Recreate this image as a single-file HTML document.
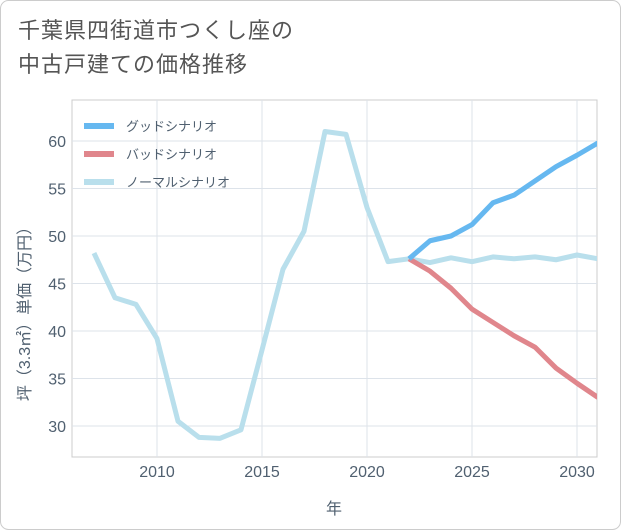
<!DOCTYPE html>
<html><head><meta charset="utf-8">
<style>
html,body{margin:0;padding:0;background:#fff;}
#wrap{position:relative;width:621px;height:530px;overflow:hidden;font-family:"Liberation Sans","Noto Sans CJK JP",sans-serif;}
#title{position:absolute;left:18px;top:14px;font-size:22px;line-height:34px;color:#555;letter-spacing:1px;}
svg{position:absolute;left:0;top:0;}
text{font-family:"Liberation Sans","Noto Sans CJK JP",sans-serif;}
</style></head>
<body>
<div id="wrap">
<svg id="chart" width="621" height="530">
<rect x="0.5" y="0.5" width="620" height="529" rx="8" fill="#fff" stroke="#ccc"/>
</svg>
<div id="title">千葉県四街道市つくし座の<br>中古戸建ての価格推移</div>
</div>
<script>
const years=[2007,2008,2009,2010,2011,2012,2013,2014,2015,2016,2017,2018,2019,2020,2021,2022,2023,2024,2025,2026,2027,2028,2029,2030,2031];
const normalVals=[48.2,43.5,42.8,39.2,30.5,28.8,28.7,29.6,38,46.5,50.5,61,60.7,53,47.3,47.6,47.2,47.7,47.3,47.8,47.6,47.8,47.5,48,47.6];
const goodYears=[2022,2023,2024,2025,2026,2027,2028,2029,2030,2031];
const goodVals=[47.6,49.5,50,51.2,53.5,54.3,55.8,57.3,58.5,59.8];
const badVals=[47.6,46.3,44.5,42.3,40.9,39.5,38.3,36.1,34.5,33];
const xTicks=[2010,2015,2020,2025,2030];
const yTicks=[30,35,40,45,50,55,60];
const NS="http://www.w3.org/2000/svg";
const svg=document.getElementById('chart');
const L=72,R=597,T=100,B=457;
const x=v=>157+(v-2010)*21;
const y=v=>426-(v-30)*9.5;
function el(t,a){const e=document.createElementNS(NS,t);for(const k in a)e.setAttribute(k,a[k]);svg.appendChild(e);return e;}
const bg=el('rect',{x:L,y:T,width:R-L,height:B-T,fill:'#fff',stroke:'#ccc'});


xTicks.forEach(v=>{
 const g=el('line',{x1:x(v),x2:x(v),y1:T,y2:B,stroke:'#dde3ea'});
 
 
 const t=el('text',{x:x(v),y:477,'text-anchor':'middle','font-size':16,fill:'#506070'});
 t.textContent=v;
 
 
});
yTicks.forEach(v=>{
 const g=el('line',{x1:L,x2:R,y1:y(v),y2:y(v),stroke:'#dde3ea'});
 
 
 const t=el('text',{x:66,y:y(v)+6,'text-anchor':'end','font-size':16,fill:'#506070'});
 t.textContent=v;
 
 
});
const xt=el('text',{x:334,y:514,'text-anchor':'middle','font-size':16,fill:'#506070'});
xt.textContent='年';


const yt=el('text',{x:0,y:0,'text-anchor':'middle','font-size':16,fill:'#506070',transform:'translate(30,310) rotate(-90)'});
yt.textContent='坪（3.3㎡）単価（万円）';


const clip=el('clipPath',{id:'c'});
const cr=document.createElementNS(NS,'rect');
cr.setAttribute('x',L);cr.setAttribute('y',T);cr.setAttribute('width',R-L);cr.setAttribute('height',B-T);
clip.appendChild(cr);
function line(xs,vs,color,name){
 const p=el('polyline',{points:xs.map((yr,i)=>x(yr)+','+y(vs[i])).join(' '),fill:'none',stroke:color,'stroke-width':5,'stroke-linejoin':'round','clip-path':'url(#c)'});
 
 
}
line(years,normalVals,'#b9dfec','normal-scenario-line');
line(goodYears,badVals,'#e0868c','bad-scenario-line');
line(goodYears,goodVals,'#66b8f0','good-scenario-line');
const legend=[['グッドシナリオ','#66b8f0'],['バッドシナリオ','#e0868c'],['ノーマルシナリオ','#b9dfec']];
legend.forEach((d,i)=>{
 const ly=126+i*28;
 const s=el('line',{x1:84,x2:114,y1:ly,y2:ly,stroke:d[1],'stroke-width':6});
 
 
 const t=el('text',{x:126,y:ly+5,'font-size':13,fill:'#506070'});
 t.textContent=d[0];
 
 
});
</script>
</body></html>
